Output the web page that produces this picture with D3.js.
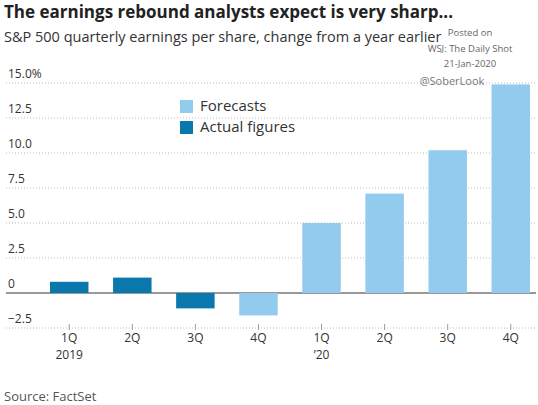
<!DOCTYPE html>
<html><head><meta charset="utf-8">
<script src="https://cdn.jsdelivr.net/npm/d3@7"></script>
<style>body{margin:0;background:#fff}text{font-family:"Open Sans",sans-serif}</style>
</head><body><svg></svg>
<script>
var quarters = ["1Q", "2Q", "3Q", "4Q", "1Q", "2Q", "3Q", "4Q"];
var years = ["2019", "", "", "", "\u201920", "", "", ""];
var values = [0.8, 1.1, -1.1, -1.6, 5.0, 7.1, 10.2, 14.9];
var kinds = ["actual", "actual", "actual", "forecast", "forecast", "forecast", "forecast", "forecast"];
var yTicks = [-2.5, 0, 2.5, 5, 7.5, 10, 12.5, 15];
var colors = {actual: "#0a77ad", forecast: "#93cbee"};

var W = 538, H = 405;
var svg = d3.select("svg").attr("width", W).attr("height", H);

var x = d3.scaleBand().domain(d3.range(values.length)).range([38, 542]).paddingInner(0.39).paddingOuter(0.19);
var y = d3.scaleLinear().domain([-2.5, 15]).range([328, 83]);

// gridlines + labels
yTicks.forEach(function(t) {
    svg.append("line").attr("x1", 6).attr("x2", 536).attr("y1", y(t)).attr("y2", y(t))
        .attr("stroke", t === 0 ? "#333" : "#bbb").attr("stroke-width", 1)
        .attr("stroke-dasharray", t === 0 ? null : "1,2");
    svg.append("text").attr("x", 8).attr("y", y(t) - 5).attr("font-size", 12).attr("fill", "#333")
        .text(t === 0 ? "0" : (t === 15 ? "15.0%" : d3.format(".1f")(t)));
});

svg.selectAll("rect.bar").data(values).enter().append("rect").attr("class", "bar")
    .attr("x", function(d, i) { return x(i); })
    .attr("width", x.bandwidth())
    .attr("y", function(d) { return y(Math.max(0, d)); })
    .attr("height", function(d) { return Math.abs(y(d) - y(0)); })
    .attr("fill", function(d, i) { return colors[kinds[i]]; });

// x labels
quarters.forEach(function(q, i) {
    var cx = x(i) + x.bandwidth() / 2;
    svg.append("line").attr("x1", cx).attr("x2", cx).attr("y1", 324).attr("y2", 330).attr("stroke", "#999");
    svg.append("text").attr("x", cx).attr("y", 342).attr("text-anchor", "middle").attr("font-size", 12).attr("fill", "#333").text(q);
    if (years[i]) svg.append("text").attr("x", cx).attr("y", 359).attr("text-anchor", "middle").attr("font-size", 12).attr("fill", "#333").text(years[i]);
});

// legend
[["Forecasts", "forecast", 111], ["Actual figures", "actual", 132]].forEach(function(l) {
    svg.append("rect").attr("x", 180).attr("y", l[2] - 11).attr("width", 13).attr("height", 13).attr("fill", colors[l[1]]);
    svg.append("text").attr("x", 200).attr("y", l[2]).attr("font-size", 15).attr("fill", "#333").text(l[0]);
});

svg.append("text").attr("x", 4).attr("y", 18).attr("font-size", 17).attr("font-weight", "bold").attr("fill", "#222")
    .text("The earnings rebound analysts expect is very sharp...");
svg.append("text").attr("x", 4).attr("y", 42).attr("font-size", 14.5).attr("fill", "#333")
    .text("S&P 500 quarterly earnings per share, change from a year earlier");
svg.append("text").attr("x", 4).attr("y", 401).attr("font-size", 13).attr("fill", "#555").text("Source: FactSet");

// watermark
[["Posted on", 36], ["WSJ: The Daily Shot", 52], ["21-Jan-2020", 67]].forEach(function(w) {
    svg.append("text").attr("x", 470).attr("y", w[1]).attr("text-anchor", "middle").attr("font-size", 9.5).attr("fill", "#666").text(w[0]);
});
svg.append("text").attr("x", 452).attr("y", 85).attr("text-anchor", "middle").attr("font-size", 11).attr("fill", "#777").text("@SoberLook");
</script></body></html>
